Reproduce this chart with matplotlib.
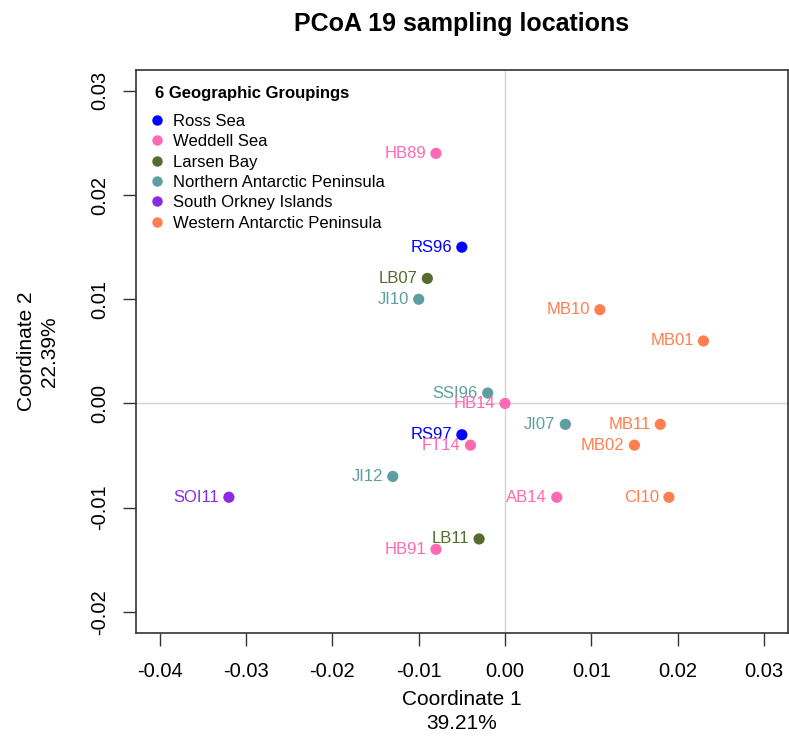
import matplotlib.pyplot as plt
from matplotlib.lines import Line2D

plt.rcParams['font.family'] = ['Liberation Sans', 'DejaVu Sans']

# PCoA scores for the 19 sampling sites
sites = ["HB89", "RS96", "LB07", "JI10", "MB10", "MB01", "SSI96", "HB14", "JI07", "MB11",
         "RS97", "FT14", "MB02", "JI12", "SOI11", "AB14", "CI10", "LB11", "HB91"]
coord1 = [-0.008, -0.005, -0.009, -0.010, 0.011, 0.023, -0.002, 0.000, 0.007, 0.018,
          -0.005, -0.004, 0.015, -0.013, -0.032, 0.006, 0.019, -0.003, -0.008]
coord2 = [0.024, 0.015, 0.012, 0.010, 0.009, 0.006, 0.001, 0.000, -0.002, -0.002,
          -0.003, -0.004, -0.004, -0.007, -0.009, -0.009, -0.009, -0.013, -0.014]
region = ["Weddell Sea", "Ross Sea", "Larsen Bay", "Northern Antarctic Peninsula",
          "Western Antarctic Peninsula", "Western Antarctic Peninsula",
          "Northern Antarctic Peninsula", "Weddell Sea", "Northern Antarctic Peninsula",
          "Western Antarctic Peninsula", "Ross Sea", "Weddell Sea",
          "Western Antarctic Peninsula", "Northern Antarctic Peninsula",
          "South Orkney Islands", "Weddell Sea", "Western Antarctic Peninsula",
          "Larsen Bay", "Weddell Sea"]

groups = ["Ross Sea", "Weddell Sea", "Larsen Bay", "Northern Antarctic Peninsula",
          "South Orkney Islands", "Western Antarctic Peninsula"]
group_colors = ["#0000FF", "#FF69B4", "#556B2F", "#5F9EA0", "#8A2BE2", "#FF7F50"]
cmap = dict(zip(groups, group_colors))

fig = plt.figure(figsize=(7.89, 7.37), dpi=100)
ax = fig.add_axes([0.172, 0.1415, 0.8267, 0.7635])

ax.axhline(0, color="#D3D3D3", lw=1, zorder=0)
ax.axvline(0, color="#D3D3D3", lw=1, zorder=0)

cols = [cmap[r] for r in region]
ax.scatter(coord1, coord2, c=cols, s=65, edgecolors="none", zorder=3)
for name, x, y, c in zip(sites, coord1, coord2, cols):
    ax.annotate(name, (x, y), xytext=(-7, 0), textcoords="offset points",
                ha="right", va="center", color=c, fontsize=12)

# R-style axes: data range padded by 4%
ax.set_xlim(-0.0428, 0.0328)
ax.set_ylim(-0.022, 0.032)
ax.set_xticks([-0.04, -0.03, -0.02, -0.01, 0.00, 0.01, 0.02, 0.03])
ax.set_yticks([-0.02, -0.01, 0.00, 0.01, 0.02, 0.03])
ax.set_xticklabels(["%.2f" % v for v in ax.get_xticks()])
ax.set_yticklabels(["%.2f" % v for v in ax.get_yticks()], rotation=90, va="center")
ax.tick_params(direction="out", length=9.4, width=1, labelsize=14.5, pad=12, color="#333333")
ax.tick_params(axis="y", pad=10)
for s in ax.spines.values():
    s.set_linewidth(1.2)
    s.set_color("#333333")

ax.set_xlabel("Coordinate 1\n39.21%", fontsize=15, linespacing=1.35, va="center")
ax.xaxis.set_label_coords(0.5, -0.14)
ax.set_ylabel("Coordinate 2\n22.39%", fontsize=15, linespacing=1.3, va="center")
ax.yaxis.set_label_coords(-0.15, 0.5)
fig.suptitle("PCoA 19 sampling locations", fontsize=18, fontweight="bold", x=0.585, y=0.984)

ax.text(0.0296, 0.958, "6 Geographic Groupings", transform=ax.transAxes,
        fontsize=12, fontweight="bold", ha="left", va="center")
handles = [Line2D([], [], marker="o", ls="none", color=c, markersize=6.5) for c in group_colors]
ax.legend(handles, groups, loc="upper left", bbox_to_anchor=(0.022, 0.922), frameon=False,
          fontsize=12, handletextpad=0.56, handlelength=0.8, labelspacing=0.32,
          borderaxespad=0, borderpad=0)

fig.savefig("out.png", dpi=100)
